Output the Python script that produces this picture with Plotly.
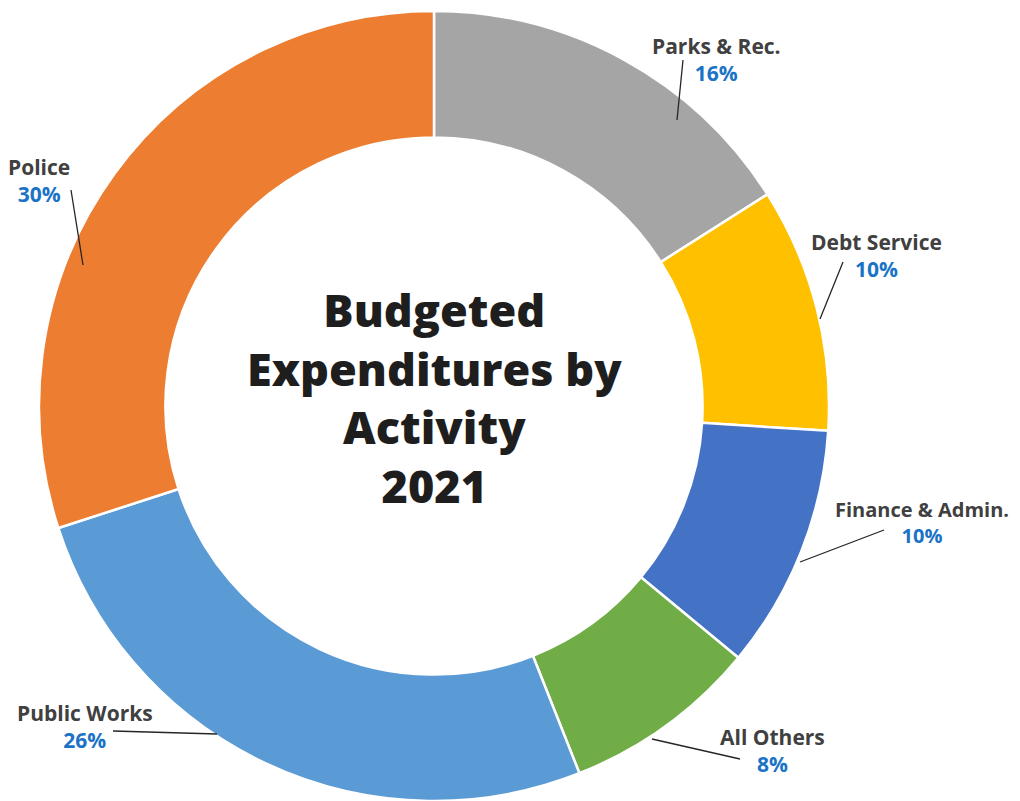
import plotly.graph_objects as go

# ---- data ----
categories = ["Parks & Rec.", "Debt Service", "Finance & Admin.", "All Others", "Public Works", "Police"]
values = [16, 10, 10, 8, 26, 30]
colors = ["#A5A5A5", "#FFC000", "#4472C4", "#70AD47", "#5B9BD5", "#ED7D31"]
title_lines = ["Budgeted", "Expenditures by", "Activity", "2021"]

# ---- layout helpers (page pixel -> paper); page body has an 8px margin ----
OFF = 8
W, H = 1020 - OFF, 801 - OFF
def px(x):
    return (x - OFF) / W
def py(y):
    return 1 - (y - OFF) / H

cx, cy, R = 434, 406, 395

fig = go.Figure()
fig.add_trace(go.Pie(
    labels=categories,
    values=values,
    sort=False,
    direction="clockwise",
    rotation=0,
    hole=0.68,
    marker=dict(colors=colors, line=dict(color="white", width=2.5)),
    textinfo="none",
    hoverinfo="label+percent",
    showlegend=False,
    domain=dict(x=[px(cx - R), px(cx + R)], y=[max(0, py(cy + R)), py(cy - R)]),
))

# label block centres and leader lines (page pixel positions)
label_pos = {
    "Parks & Rec.": (716, 59),
    "Debt Service": (876, 256),
    "Finance & Admin.": (922, 522),
    "All Others": (772, 750),
    "Public Works": (85, 726),
    "Police": (39, 181),
}
leader = {
    "Parks & Rec.": ((683, 60), (677, 120)),
    "Debt Service": ((843, 262), (820, 319)),
    "Finance & Admin.": ((884, 530), (800, 562)),
    "All Others": ((740, 759), (652, 739)),
    "Public Works": ((113, 731), (217, 734)),
    "Police": ((71, 190), (83, 265)),
}

annotations = []
shapes = []
for cat, v in zip(categories, values):
    lx, ly = label_pos[cat]
    size = 20 if cat == "Finance & Admin." else 21
    annotations.append(dict(
        x=px(lx), y=py(ly), xref="paper", yref="paper",
        xanchor="center", yanchor="middle", showarrow=False, align="center",
        text=f"<b>{cat}</b><br><span style='color:#1A73C6'><b>{v}%</b></span>",
        font=dict(family="Open Sans", size=size, color="#404040"),
    ))
    (x0, y0), (x1, y1) = leader[cat]
    shapes.append(dict(type="line", xref="paper", yref="paper",
                       x0=px(x0), y0=py(y0), x1=px(x1), y1=py(y1),
                       line=dict(color="#262626", width=1.3)))

annotations.append(dict(
    x=px(434), y=py(397), xref="paper", yref="paper",
    xanchor="center", yanchor="middle", showarrow=False, align="center",
    text="<br>".join(title_lines),
    font=dict(family="Open Sans", size=45, color="#1E1E1E", weight=800),
))

fig.update_layout(
    width=W, height=H,
    margin=dict(l=0, r=0, t=0, b=0),
    paper_bgcolor="white", plot_bgcolor="white",
    annotations=annotations, shapes=shapes,
)

fig.write_html("out.html")
